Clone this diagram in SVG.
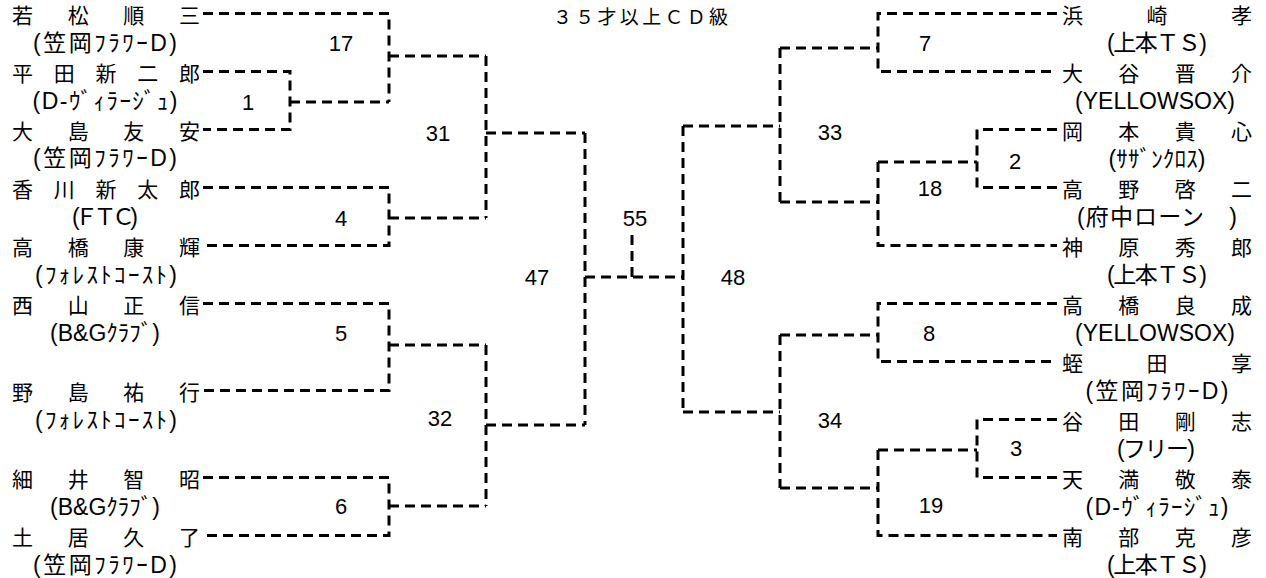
<svg xmlns="http://www.w3.org/2000/svg" width="1266" height="578" viewBox="0 0 1266 578">
<style>
.c{fill:none;stroke:#000;stroke-width:3;stroke-dasharray:10 6}
.n{font-family:"Noto Sans CJK JP","Noto Sans",sans-serif;font-size:21px;fill:#000;dominant-baseline:central}
.t{font-family:"Liberation Sans","Noto Sans CJK JP",sans-serif;font-size:23px;fill:#000;dominant-baseline:central;text-anchor:middle}
.m{font-family:"Liberation Sans",Arial,sans-serif;font-size:22px;fill:#000;dominant-baseline:central;text-anchor:middle}
.h{font-family:"Noto Sans CJK JP","Noto Sans",sans-serif;font-size:19px;fill:#000;dominant-baseline:central}
</style>
<rect width="1266" height="578" fill="#fff"/>
<g id="title"><text class="h" x="553" y="15" textLength="175" lengthAdjust="spacing">３５才以上ＣＤ級</text></g>
<g id="connectors">
<path class="c" d="M203 71.5H290V129.5H203M290 102H389"/>
<path class="c" d="M203 13.5H389V102M389 56H486"/>
<path class="c" d="M203 187.5H389V245.5H203M389 218H486"/>
<path class="c" d="M486 56V218M486 133H585"/>
<path class="c" d="M203 303.5H389V390.5H203M389 345H486"/>
<path class="c" d="M203 477.5H389V535.5H203M389 506H486"/>
<path class="c" d="M486 345V506M486 425H585"/>
<path class="c" d="M585 133V425M585 277H683"/>
<path class="c" d="M632 235V277"/>
<path class="c" d="M683 126V412"/>
<path class="c" d="M780 48V202M683 126H780"/>
<path class="c" d="M780 335V488M683 412H780"/>
<path class="c" d="M1057 13.5H878V71.5H1057M780 48H878"/>
<path class="c" d="M878 162V245.5H1057M780 202H878"/>
<path class="c" d="M1057 129.5H977V187.5H1057M878 162H977"/>
<path class="c" d="M1057 303.5H878V361.5H1057M780 335H878"/>
<path class="c" d="M1057 419.5H977V477.5H1057M878 450H977"/>
<path class="c" d="M878 450V535.5H1057M780 488H878"/>
</g>
<g id="p-wakamatsu"><text class="n" x="12" y="13.5" textLength="188" lengthAdjust="spacing">若松順三</text><text class="t" x="105" y="43" textLength="144" lengthAdjust="spacing">(笠岡ﾌﾗﾜｰD)</text></g>
<g id="p-hirata"><text class="n" x="12" y="71.5" textLength="188" lengthAdjust="spacing">平田新二郎</text><text class="t" x="105" y="101" textLength="145" lengthAdjust="spacing">(D-ｳﾞｨﾗｰｼﾞｭ)</text></g>
<g id="p-oshima"><text class="n" x="12" y="129.5" textLength="188" lengthAdjust="spacing">大島友安</text><text class="t" x="105" y="158" textLength="144" lengthAdjust="spacing">(笠岡ﾌﾗﾜｰD)</text></g>
<g id="p-kagawa"><text class="n" x="12" y="187.5" textLength="188" lengthAdjust="spacing">香川新太郎</text><text class="t" x="105" y="217" textLength="66" lengthAdjust="spacing">(ＦＴＣ)</text></g>
<g id="p-takahashi-k"><text class="n" x="12" y="245.5" textLength="188" lengthAdjust="spacing">高橋康輝</text><text class="t" x="106" y="274.5" textLength="142" lengthAdjust="spacing">(ﾌｫﾚｽﾄｺｰｽﾄ)</text></g>
<g id="p-nishiyama"><text class="n" x="12" y="303.5" textLength="188" lengthAdjust="spacing">西山正信</text><text class="t" x="105" y="332.5" textLength="110" lengthAdjust="spacing">(B&amp;Gｸﾗﾌﾞ)</text></g>
<g id="p-nojima"><text class="n" x="12" y="390.5" textLength="188" lengthAdjust="spacing">野島祐行</text><text class="t" x="106" y="419.5" textLength="142" lengthAdjust="spacing">(ﾌｫﾚｽﾄｺｰｽﾄ)</text></g>
<g id="p-hosoi"><text class="n" x="12" y="477.5" textLength="188" lengthAdjust="spacing">細井智昭</text><text class="t" x="105" y="506.5" textLength="110" lengthAdjust="spacing">(B&amp;Gｸﾗﾌﾞ)</text></g>
<g id="p-doi"><text class="n" x="12" y="535.5" textLength="188" lengthAdjust="spacing">土居久了</text><text class="t" x="105" y="564.5" textLength="144" lengthAdjust="spacing">(笠岡ﾌﾗﾜｰD)</text></g>
<g id="p-hamasaki"><text class="n" x="1062" y="13.5" textLength="190" lengthAdjust="spacing">浜崎孝</text><text class="t" x="1157" y="42.5" textLength="100" lengthAdjust="spacing">(上本ＴＳ)</text></g>
<g id="p-otani"><text class="n" x="1062" y="71.5" textLength="190" lengthAdjust="spacing">大谷晋介</text><text class="t" x="1155" y="100.5" textLength="160" lengthAdjust="spacing">(YELLOWSOX)</text></g>
<g id="p-okamoto"><text class="n" x="1062" y="129.5" textLength="190" lengthAdjust="spacing">岡本貴心</text><text class="t" x="1157" y="158.5" textLength="97" lengthAdjust="spacing">(ｻｻﾞﾝｸﾛｽ)</text></g>
<g id="p-takano"><text class="n" x="1062" y="187.5" textLength="190" lengthAdjust="spacing">高野啓二</text><text class="t" x="1157" y="216.5" textLength="160" lengthAdjust="spacing">(府中ローン　)</text></g>
<g id="p-kanbara"><text class="n" x="1062" y="245.5" textLength="190" lengthAdjust="spacing">神原秀郎</text><text class="t" x="1157" y="274.5" textLength="100" lengthAdjust="spacing">(上本ＴＳ)</text></g>
<g id="p-takahashi-y"><text class="n" x="1062" y="303.5" textLength="190" lengthAdjust="spacing">高橋良成</text><text class="t" x="1155" y="332.5" textLength="160" lengthAdjust="spacing">(YELLOWSOX)</text></g>
<g id="p-hiruta"><text class="n" x="1062" y="361.5" textLength="190" lengthAdjust="spacing">蛭田享</text><text class="t" x="1157" y="390.5" textLength="143" lengthAdjust="spacing">(笠岡ﾌﾗﾜｰD)</text></g>
<g id="p-tanida"><text class="n" x="1062" y="419.5" textLength="190" lengthAdjust="spacing">谷田剛志</text><text class="t" x="1156" y="448.5" textLength="78" lengthAdjust="spacing">(フリー)</text></g>
<g id="p-tenma"><text class="n" x="1062" y="477.5" textLength="190" lengthAdjust="spacing">天満敬泰</text><text class="t" x="1157" y="506.5" textLength="143" lengthAdjust="spacing">(D-ｳﾞｨﾗｰｼﾞｭ)</text></g>
<g id="p-nanbu"><text class="n" x="1062" y="535.5" textLength="190" lengthAdjust="spacing">南部克彦</text><text class="t" x="1157" y="564.5" textLength="100" lengthAdjust="spacing">(上本ＴＳ)</text></g>
<g id="m17"><text class="m" x="341" y="43">17</text></g>
<g id="m1"><text class="m" x="248" y="102">1</text></g>
<g id="m31"><text class="m" x="438" y="133">31</text></g>
<g id="m4"><text class="m" x="341" y="218">4</text></g>
<g id="m5"><text class="m" x="341" y="333">5</text></g>
<g id="m6"><text class="m" x="341" y="506">6</text></g>
<g id="m32"><text class="m" x="440" y="418">32</text></g>
<g id="m47"><text class="m" x="537" y="277">47</text></g>
<g id="m55"><text class="m" x="635" y="218">55</text></g>
<g id="m48"><text class="m" x="733" y="277">48</text></g>
<g id="m33"><text class="m" x="830" y="132">33</text></g>
<g id="m7"><text class="m" x="925" y="43">7</text></g>
<g id="m2"><text class="m" x="1015" y="161">2</text></g>
<g id="m18"><text class="m" x="930" y="188">18</text></g>
<g id="m8"><text class="m" x="929" y="333">8</text></g>
<g id="m34"><text class="m" x="830" y="420">34</text></g>
<g id="m3"><text class="m" x="1016" y="448">3</text></g>
<g id="m19"><text class="m" x="931" y="505">19</text></g>
</svg>
